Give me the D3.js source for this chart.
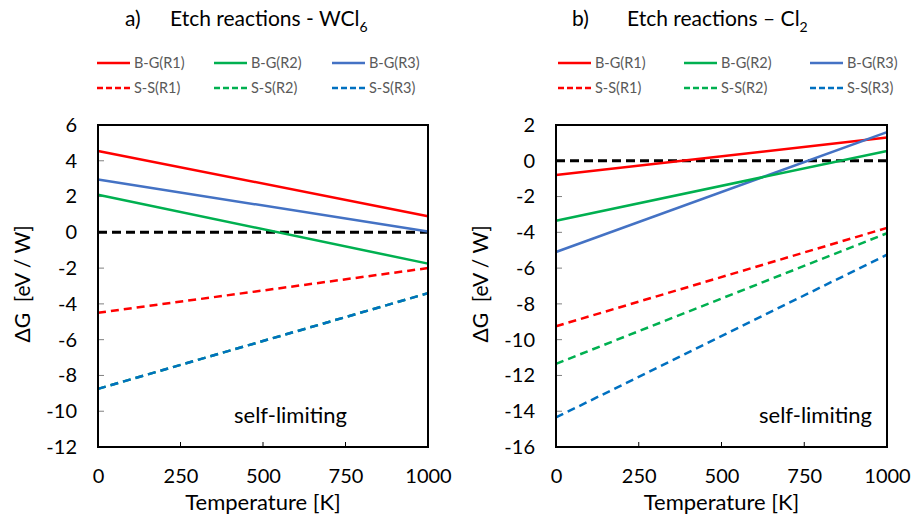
<!DOCTYPE html>
<html><head><meta charset="utf-8">
<script src="https://cdn.jsdelivr.net/npm/d3@7"></script>
<style>body{margin:0;background:#fff}svg{display:block}</style>
</head><body>
<script>
// ---- data ----
const temps = [0, 1000];
const seriesNames = ["B-G(R1)", "B-G(R2)", "B-G(R3)", "S-S(R1)", "S-S(R2)", "S-S(R3)"];
const seriesColors = ["#FF0000", "#00B050", "#4472C4", "#FF0000", "#00B050", "#0070C0"];
const seriesDashed = [false, false, false, true, true, true];
// panel a) WCl6
const wcl6_BG_R1 = [4.55, 0.9];
const wcl6_BG_R2 = [2.1, -1.75];
const wcl6_BG_R3 = [2.95, 0.05];
const wcl6_SS_R1 = [-4.5, -2.0];
const wcl6_SS_R2 = [-8.75, -3.4];
const wcl6_SS_R3 = [-8.75, -3.4];
// panel b) Cl2
const cl2_BG_R1 = [-0.8, 1.3];
const cl2_BG_R2 = [-3.35, 0.55];
const cl2_BG_R3 = [-5.1, 1.6];
const cl2_SS_R1 = [-9.25, -3.75];
const cl2_SS_R2 = [-11.35, -4.05];
const cl2_SS_R3 = [-14.35, -5.25];
const zeroLine = [0, 0];
const xTicks = [0, 250, 500, 750, 1000];
const yTicksA = [6, 4, 2, 0, -2, -4, -6, -8, -10, -12];
const yTicksB = [2, 0, -2, -4, -6, -8, -10, -12, -14, -16];

const W = 913, H = 517;
const font = "Lato, 'Open Sans', sans-serif";
const svg = d3.select("body").append("svg").attr("width", W).attr("height", H);

const panels = [
  {x0: 98, x1: 428, y0: 125, y1: 447, ydom: [-12, 6], yticks: yTicksA,
   title: ["a)", "Etch reactions - WCl", "6"], titleX: [125, 170],
   legX: [97, 214, 332],
   series: [wcl6_BG_R1, wcl6_BG_R2, wcl6_BG_R3, wcl6_SS_R1, wcl6_SS_R2, wcl6_SS_R3],
   selfX: 347, axTitleX: 30},
  {x0: 556, x1: 887, y0: 125, y1: 447, ydom: [-16, 2], yticks: yTicksB,
   title: ["b)", "Etch reactions \u2013 Cl", "2"], titleX: [572, 627],
   legX: [558, 684, 810],
   series: [cl2_BG_R1, cl2_BG_R2, cl2_BG_R3, cl2_SS_R1, cl2_SS_R2, cl2_SS_R3],
   selfX: 872, axTitleX: 488}
];

panels.forEach(p => {
  const g = svg.append("g");
  const x = d3.scaleLinear().domain([0, 1000]).range([p.x0, p.x1]);
  const y = d3.scaleLinear().domain(p.ydom).range([p.y1, p.y0]);

  // title
  g.append("text").attr("x", p.titleX[0]).attr("y", 26).attr("font-family", font).attr("font-size", 21).text(p.title[0]);
  const tt = g.append("text").attr("x", p.titleX[1]).attr("y", 26).attr("font-family", font).attr("font-size", 21);
  tt.append("tspan").text(p.title[1]);
  tt.append("tspan").attr("dy", 6).attr("font-size", 14).text(p.title[2]);

  // legend
  seriesNames.forEach((name, i) => {
    const col = i % 3, row = Math.floor(i / 3);
    const lx = p.legX[col], ly = 63 + row * 25;
    g.append("line").attr("x1", lx).attr("x2", lx + 33).attr("y1", ly).attr("y2", ly)
      .attr("stroke", seriesColors[i]).attr("stroke-width", 2.5)
      .attr("stroke-dasharray", seriesDashed[i] ? "6,3" : null);
    g.append("text").attr("x", lx + 37).attr("y", ly + 5).attr("font-family", font)
      .attr("font-size", 14.5).attr("fill", "#595959").text(name);
  });

  // axes
  const fmt = d => String(d);
  const xAxis = d3.axisBottom(x).tickValues(xTicks).tickSize(0).tickPadding(22).tickFormat(fmt);
  const gx = g.append("g").attr("transform", `translate(0,${p.y1})`).call(xAxis);
  gx.select(".domain").remove();
  gx.selectAll("text").attr("font-family", font).attr("font-size", 20).attr("fill", "#000");
  const yAxis = d3.axisLeft(y).tickValues(p.yticks).tickSize(0).tickPadding(21).tickFormat(fmt);
  const gy = g.append("g").attr("transform", `translate(${p.x0},0)`).call(yAxis);
  gy.select(".domain").remove();
  gy.selectAll("text").attr("font-family", font).attr("font-size", 20).attr("fill", "#000");

  // inner ticks
  xTicks.slice(1, -1).forEach(v => {
    g.append("line").attr("x1", x(v)).attr("x2", x(v)).attr("y1", p.y1).attr("y2", p.y1 - 5)
      .attr("stroke", "#000").attr("stroke-width", 1);
  });
  p.yticks.slice(1, -1).forEach(v => {
    g.append("line").attr("x1", p.x0).attr("x2", p.x0 + 6).attr("y1", y(v)).attr("y2", y(v))
      .attr("stroke", "#808080").attr("stroke-width", 1);
  });

  // series
  const line = d3.line().x((d, i) => x(temps[i])).y(d => y(d));
  g.append("path").datum(zeroLine).attr("d", line).attr("fill", "none")
    .attr("stroke", "#000").attr("stroke-width", 3).attr("stroke-dasharray", "9,5");
  const order = [0, 2, 1, 3, 4, 5];
  order.forEach(i => {
    g.append("path").datum(p.series[i]).attr("d", line).attr("fill", "none")
      .attr("stroke", seriesColors[i]).attr("stroke-width", 2.5)
      .attr("stroke-dasharray", seriesDashed[i] ? "8,5" : null);
  });

  // frame
  g.append("rect").attr("x", p.x0).attr("y", p.y0).attr("width", p.x1 - p.x0).attr("height", p.y1 - p.y0)
    .attr("fill", "none").attr("stroke", "#000").attr("stroke-width", 2);

  // annotation
  g.append("text").attr("x", p.selfX).attr("y", 423).attr("text-anchor", "end")
    .attr("font-family", font).attr("font-size", 22).text("self-limiting");

  // axis titles
  g.append("text").attr("x", (p.x0 + p.x1) / 2).attr("y", 510).attr("text-anchor", "middle")
    .attr("font-family", font).attr("font-size", 22).text("Temperature [K]");
  g.append("text").attr("transform", `translate(${p.axTitleX},${(p.y0 + p.y1) / 2 - 2}) rotate(-90)`)
    .attr("text-anchor", "middle").attr("font-family", font).attr("font-size", 21)
    .attr("xml:space", "preserve").style("white-space", "pre").text("\u0394G  [eV / W]");
});
</script>
</body></html>
